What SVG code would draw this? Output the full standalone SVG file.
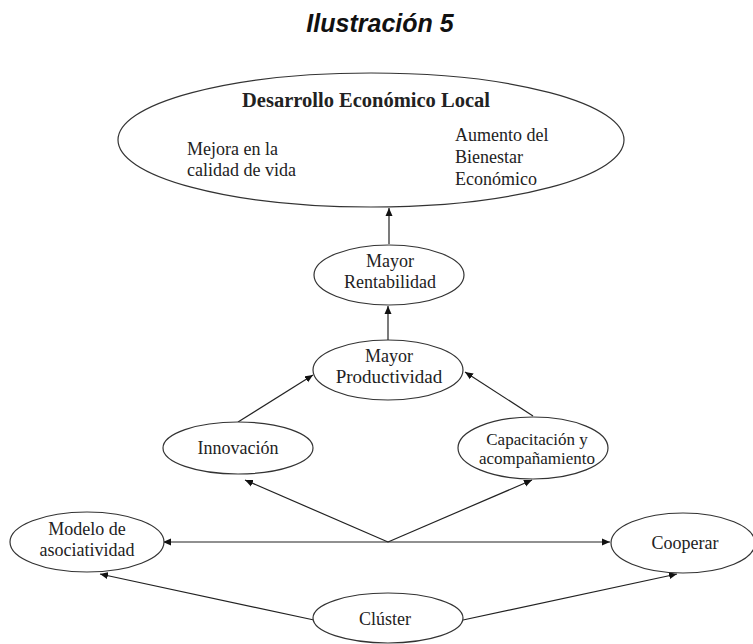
<svg xmlns="http://www.w3.org/2000/svg" width="753" height="644" viewBox="0 0 753 644">
<style>
.n{fill:#fff;stroke:#333;stroke-width:1.2}
.t{font-family:"Liberation Serif","Times New Roman",serif;font-size:18px;fill:#222}
.m{text-anchor:middle}
.c line{stroke:#222;stroke-width:1.2}
</style>
<defs>
<marker id="a" viewBox="0 0 8 8" refX="8" refY="4" markerWidth="8" markerHeight="8" markerUnits="userSpaceOnUse" orient="auto">
<path d="M0,0.5L8,4L0,7.5z" fill="#111"/>
</marker>
</defs>
<rect width="753" height="644" fill="#fff"/>
<text x="380" y="32" text-anchor="middle" style="font-family:'Liberation Sans',Arial,sans-serif;font-size:25px;font-weight:bold;font-style:italic" fill="#111">Ilustración 5</text>
<g class="c">
<line x1="389" y1="244" x2="389" y2="208" marker-end="url(#a)"/>
<line x1="388" y1="340" x2="388" y2="306" marker-end="url(#a)"/>
<line x1="238" y1="422" x2="313" y2="375" marker-end="url(#a)"/>
<line x1="533" y1="416" x2="465" y2="372" marker-end="url(#a)"/>
<line x1="388" y1="542" x2="245" y2="480" marker-end="url(#a)"/>
<line x1="388" y1="542" x2="532" y2="480" marker-end="url(#a)"/>
<line x1="388" y1="542" x2="163" y2="542" marker-end="url(#a)"/>
<line x1="388" y1="542" x2="610" y2="542" marker-end="url(#a)"/>
<line x1="314" y1="620" x2="100" y2="574" marker-end="url(#a)"/>
<line x1="463" y1="620" x2="677" y2="574" marker-end="url(#a)"/>
</g>
<g id="del">
<ellipse class="n" cx="371" cy="140" rx="253" ry="67"/>
<text class="t m" x="366" y="107" style="font-weight:bold;font-size:20.5px">Desarrollo Económico Local</text>
<text class="t" x="187" y="155">Mejora en la</text>
<text class="t" x="187" y="176">calidad de vida</text>
<text class="t" x="455" y="141">Aumento del</text>
<text class="t" x="455" y="163">Bienestar</text>
<text class="t" x="455" y="185">Económico</text>
</g>
<g id="rentabilidad">
<ellipse class="n" cx="389" cy="275" rx="75" ry="30"/>
<text class="t m" x="390" y="267">Mayor</text>
<text class="t m" x="390" y="288">Rentabilidad</text>
</g>
<g id="productividad">
<ellipse class="n" cx="388" cy="370" rx="75" ry="30"/>
<text class="t m" x="389" y="362">Mayor</text>
<text class="t m" x="389" y="383" style="font-size:19px">Productividad</text>
</g>
<g id="innovacion">
<ellipse class="n" cx="238" cy="448" rx="75" ry="26"/>
<text class="t m" x="238" y="454">Innovación</text>
</g>
<g id="capacitacion">
<ellipse class="n" cx="533" cy="448" rx="75" ry="31"/>
<text class="t m" x="537" y="445" style="font-size:17px">Capacitación y</text>
<text class="t m" x="537" y="464" style="font-size:17px">acompañamiento</text>
</g>
<g id="modelo">
<ellipse class="n" cx="87" cy="542" rx="77" ry="30"/>
<text class="t m" x="87" y="535">Modelo de</text>
<text class="t m" x="87" y="556">asociatividad</text>
</g>
<g id="cooperar">
<ellipse class="n" cx="683" cy="543" rx="72" ry="30"/>
<text class="t m" x="685" y="549">Cooperar</text>
</g>
<g id="cluster">
<ellipse class="n" cx="388" cy="618" rx="75" ry="25"/>
<text class="t m" x="385" y="625">Clúster</text>
</g>
</svg>
